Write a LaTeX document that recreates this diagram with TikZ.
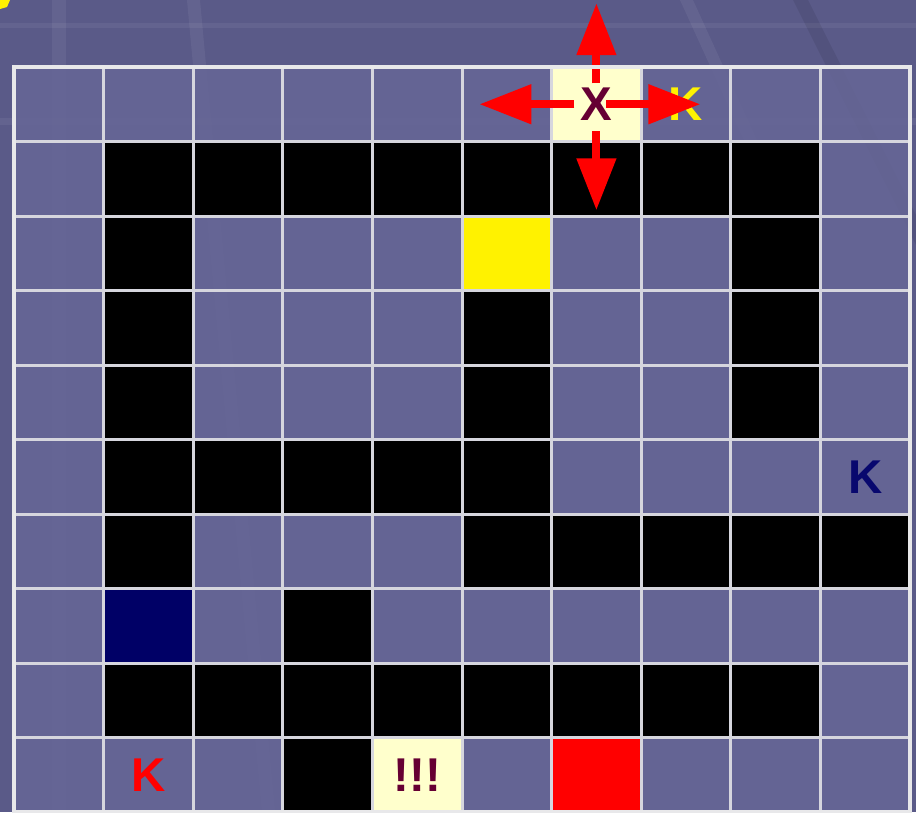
\documentclass[tikz,border=0pt]{standalone}
\usepackage{fontspec}
\setmainfont{Liberation Sans}
\usetikzlibrary{arrows.meta,calc}

\definecolor{bgpurple}{RGB}{90,90,136}
\definecolor{cellpurple}{RGB}{102,102,150}
\definecolor{gridgray}{RGB}{214,214,222}
\definecolor{framegray}{RGB}{232,232,234}
\definecolor{paleyellow}{RGB}{255,255,204}
\definecolor{navyblock}{RGB}{0,0,102}
\definecolor{maroon}{RGB}{102,0,51}
\definecolor{darkblueK}{RGB}{8,8,110}

\tikzset{
  cell/.style={rectangle, minimum width=1.792cm, minimum height=1.49cm,
    inner sep=0pt, fill=cellpurple, fill opacity=0.88, text opacity=1,
    draw=gridgray, line width=1.7pt},
  wall/.style={cell, fill=black, fill opacity=1},
  letter/.style={font=\fontsize{27}{31}\selectfont\bfseries},
  move/.style={-{Triangle[length=1.04cm,width=0.76cm]}, red, line width=4.6pt},
  stripe/.style={white, opacity=0.06},
}

\begin{document}
\begin{tikzpicture}[x={(0.02cm,0)}, y={(0,-0.02cm)}]
    % 1. Background and frame of the picture
    \useasboundingbox (0,0) rectangle (916,812);
    \fill[bgpurple] (0,0) rectangle (916,812);
    \fill[stripe] (0,23) rectangle (916,28);
    \fill[stripe] (0,118) rectangle (916,125);
    \fill[stripe] (52,0) rectangle (66,812);
    \fill[stripe] (187,0) -- (200,0) -- (275,812) -- (262,812) -- cycle;
    \fill[stripe] (680,0) -- (693,0) -- (766,160) -- (753,160) -- cycle;
    \fill[black, opacity=0.08] (793,0) -- (808,0) -- (916,215) -- (916,245) -- cycle;
    \fill[yellow] (0,0) -- (10,0) -- (7,7) -- (0,9) -- cycle;

    % 2. The 10 x 10 board
    \foreach \r in {0,...,9}
        \foreach \c in {0,...,9}
            \node[cell] (c\r-\c) at ({14+89.6*(\c+0.5)}, {67+74.5*(\r+0.5)}) {};

    % 3. Walls
    \foreach \r/\c in {1/1,1/2,1/3,1/4,1/5,1/6,1/7,1/8,
                       2/1,2/8, 3/1,3/5,3/8, 4/1,4/5,4/8,
                       5/1,5/2,5/3,5/4,5/5,
                       6/1,6/5,6/6,6/7,6/8,6/9, 7/3,
                       8/1,8/2,8/3,8/4,8/5,8/6,8/7,8/8, 9/3}
        \node[wall] (w\r-\c) at (c\r-\c) {};

    % 4. Coloured squares
    \node[cell, fill=yellow, fill opacity=1] (gold) at (c2-5) {};
    \node[cell, fill=navyblock, fill opacity=1] (navy) at (c7-1) {};
    \node[cell, fill=red, fill opacity=1] (goal) at (c9-6) {};
    \node[cell, fill=paleyellow, fill opacity=1, letter, text=maroon] (bang) at (c9-4) {!!!};

    % 5. Keys
    \node[letter, text=yellow] (kyellow) at (c0-7) {K};
    \node[letter, text=darkblueK] (kblue) at (c5-9) {K};
    \node[letter, text=red] (kred) at (c9-1) {K};

    % 6. Player and its four moves
    \node[cell, fill=paleyellow, fill opacity=1, letter, text=maroon] (start) at (c0-6) {X};
    \coordinate (fromN) at ($(start)+(0,-21)$);
    \coordinate (toN) at ($(start)+(0,-101)$);
    \coordinate (fromS) at ($(start)+(0,27)$);
    \coordinate (toS) at ($(start)+(0,106)$);
    \coordinate (fromW) at ($(start)+(-22,0)$);
    \coordinate (toW) at ($(start)+(-117,0)$);
    \coordinate (fromE) at ($(start)+(10,0)$);
    \coordinate (toE) at ($(start)+(104,0)$);
    \draw[move] (fromN) -- (toN);
    \draw[move] (fromS) -- (toS);
    \draw[move] (fromW) -- (toW);
    \draw[move] (fromE) -- (toE);

    % 7. Outer frame
    \draw[framegray, line width=2.8pt] (14,67) rectangle (910,812);
\end{tikzpicture}
\end{document}
